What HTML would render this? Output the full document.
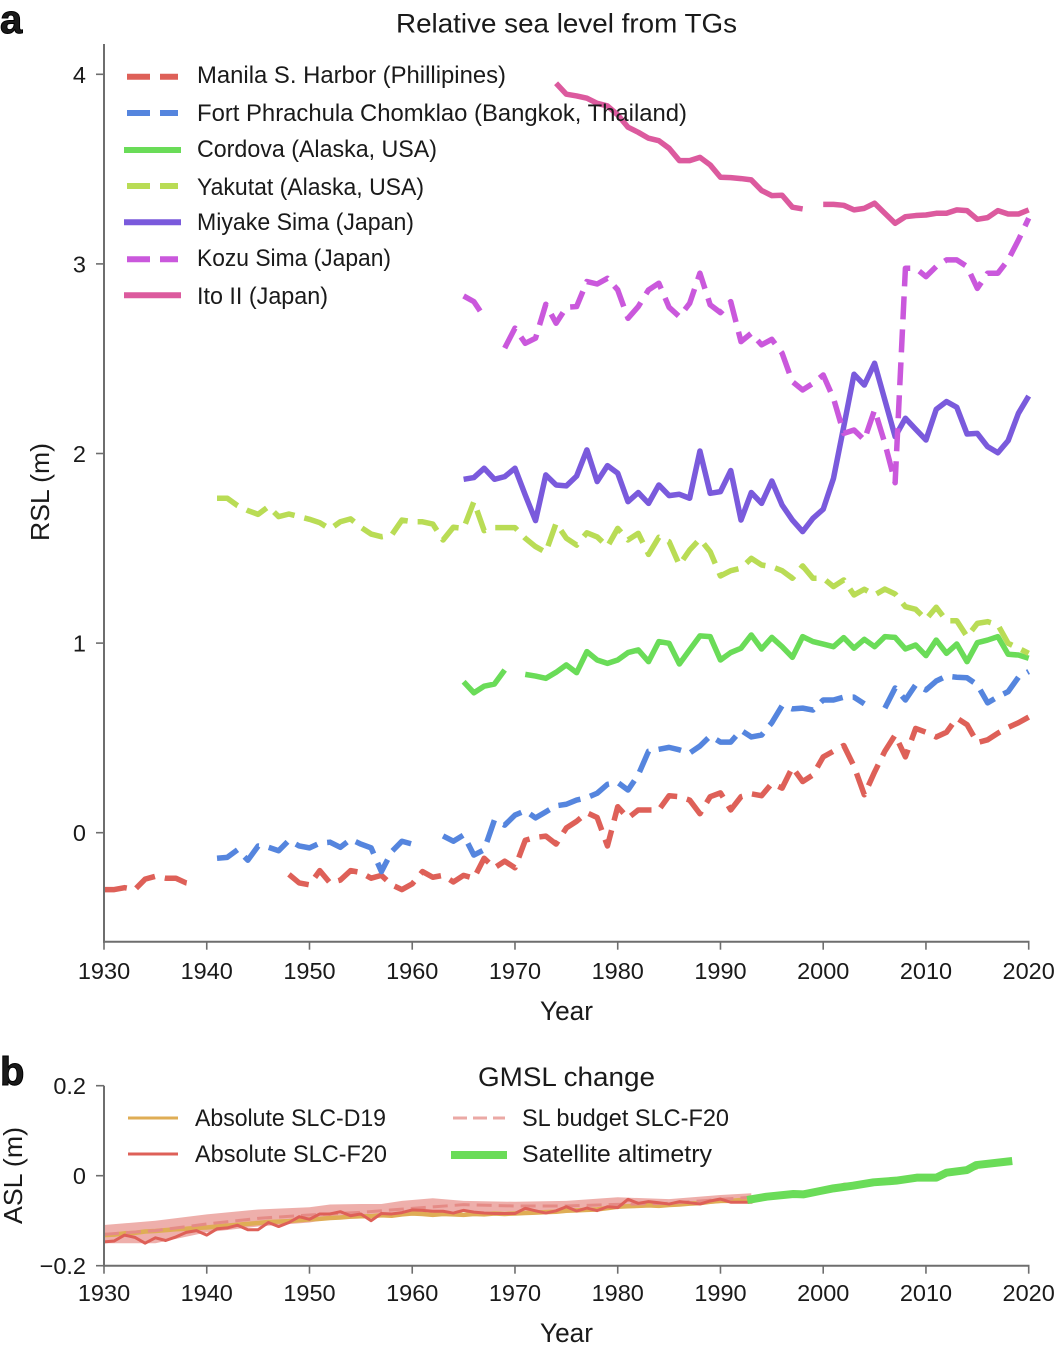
<!DOCTYPE html>
<html lang="en">
<head>
<meta charset="utf-8">
<title>Sea level charts</title>
<style>
html,body{margin:0;padding:0;background:#fff;}
#wrap{width:1057px;height:1350px;position:relative;overflow:hidden;}
svg{display:block;}
text{font-family:"Liberation Sans",sans-serif;fill:#1a1a1a;}
</style>
</head>
<body>
<div id="wrap">
<svg id="chart" width="1057" height="1350" viewBox="0 0 1057 1350" xmlns="http://www.w3.org/2000/svg">
  <g id="panelA">
    <g id="linesA"></g>
    <g id="axesA"></g>
    <g id="legendA"></g>
    <text x="0" y="33" font-size="40" font-weight="bold" stroke="#000" stroke-width="1">a</text>
    <text x="566.5" y="32.5" font-size="27" text-anchor="middle" textLength="341" lengthAdjust="spacingAndGlyphs">Relative sea level from TGs</text>
    <text x="566.5" y="1020" font-size="26.5" text-anchor="middle" textLength="53" lengthAdjust="spacingAndGlyphs">Year</text>
    <text transform="translate(49,492) rotate(-90)" font-size="26" text-anchor="middle" textLength="98" lengthAdjust="spacingAndGlyphs">RSL (m)</text>
  </g>
  <g id="panelB">
    <g id="linesB"></g>
    <g id="axesB"></g>
    <g id="legendB"></g>
    <text x="0" y="1085" font-size="40" font-weight="bold" stroke="#000" stroke-width="1">b</text>
    <text x="566.5" y="1086" font-size="27" text-anchor="middle" textLength="177" lengthAdjust="spacingAndGlyphs">GMSL change</text>
    <text x="566.5" y="1342" font-size="26.5" text-anchor="middle" textLength="53" lengthAdjust="spacingAndGlyphs">Year</text>
    <text transform="translate(22,1175.5) rotate(-90)" font-size="26" text-anchor="middle" textLength="97" lengthAdjust="spacingAndGlyphs">ASL (m)</text>
  </g>
</svg>
</div>
<script>
// ---- Shared axis data ----
const xTickYears = [1930, 1940, 1950, 1960, 1970, 1980, 1990, 2000, 2010, 2020];
const yTicksA = [0, 1, 2, 3, 4];
const yTicksB = [-0.2, 0, 0.2];
const yTickLabelsB = ['\u22120.2', '0', '0.2'];

// ---- Panel a: yearly relative sea level (m); null = missing year ----
const manilaStart = 1930;
const manilaValues = [
 -0.30,-0.30,-0.29,-0.30,-0.245,-0.23,-0.24,-0.24,-0.265,-0.275,
 null,null,null,null,null,null,null,null,-0.22,-0.265,
 -0.275,-0.20,-0.265,-0.25,-0.20,-0.21,-0.24,-0.225,-0.275,-0.30,
 -0.27,-0.205,-0.235,-0.225,-0.26,-0.225,-0.24,-0.135,-0.185,-0.15,
 -0.185,-0.04,-0.025,-0.018,-0.06,0.025,0.06,0.105,0.08,-0.07,
 0.137,0.077,0.12,0.12,0.12,0.195,0.19,0.172,0.10,0.19,
 0.21,0.12,0.19,0.205,0.195,0.26,0.235,0.345,0.27,0.305,
 0.40,0.43,0.46,0.35,0.20,0.32,0.43,0.515,0.40,0.55,
 0.53,0.505,0.53,0.605,0.57,0.475,0.49,0.525,0.555,0.58,0.61];
const fortStart = 1941;
const fortValues = [
 -0.135,-0.13,-0.09,-0.145,-0.07,-0.077,-0.095,-0.04,-0.07,
 -0.08,-0.055,-0.05,-0.077,-0.035,-0.06,-0.08,-0.205,-0.10,-0.045,
 -0.06,null,null,-0.017,-0.045,-0.012,-0.118,-0.09,0.067,0.04,
 0.093,0.116,0.078,0.11,0.142,0.15,0.172,0.185,0.208,0.255,
 0.265,0.225,0.305,0.43,0.44,0.45,0.437,0.42,0.457,0.51,
 0.478,0.478,0.54,0.505,0.515,0.58,0.67,0.653,0.657,0.647,
 0.70,0.70,0.715,0.715,0.68,null,0.657,0.763,0.70,0.78,
 0.753,0.80,0.826,0.82,0.817,0.78,0.685,0.717,0.744,0.82,0.85];
const cordovaStart = 1965;
const cordovaValues = [
 0.796,0.738,0.773,0.784,0.858,
 null,0.835,0.826,0.814,0.846,0.885,0.844,0.955,0.911,0.893,
 0.911,0.95,0.964,0.902,1.008,0.999,0.89,0.964,1.038,1.034,
 0.911,0.95,0.973,1.043,0.969,1.03,0.981,0.925,1.034,1.008,
 0.995,0.981,1.029,0.973,1.02,0.981,1.034,1.03,0.969,0.99,
 0.934,1.016,0.946,0.995,0.902,1.002,1.016,1.034,0.941,0.937,0.92];
const yakutatStart = 1941;
const yakutatValues = [
 1.764,1.764,1.725,1.699,1.679,1.72,1.667,1.681,1.667,
 1.653,1.635,1.602,1.64,1.655,1.611,1.575,1.561,1.57,1.649,
 1.64,1.64,1.628,1.544,1.611,1.605,1.746,1.593,1.609,1.609,
 1.609,1.553,1.509,1.479,1.632,1.553,1.517,1.582,1.56,1.509,
 1.605,1.544,1.579,1.468,1.558,1.535,1.412,1.491,1.549,1.482,
 1.354,1.382,1.395,1.447,1.412,1.403,1.382,1.342,1.407,1.342,
 1.342,1.298,1.333,1.254,1.284,1.254,1.285,1.259,1.192,1.178,
 1.125,1.189,1.118,1.118,1.034,1.104,1.113,1.096,0.999,0.973,0.946];
const miyakeStart = 1965;
const miyakeValues = [
 1.864,1.873,1.922,1.864,1.878,
 1.922,1.781,1.646,1.887,1.834,1.829,1.881,2.019,1.852,1.936,
 1.896,1.746,1.794,1.737,1.834,1.778,1.785,1.764,2.013,1.79,
 1.799,1.91,1.649,1.794,1.737,1.855,1.728,1.649,1.588,1.658,
 1.706,1.869,2.142,2.418,2.361,2.476,2.282,2.089,2.186,2.128,
 2.071,2.233,2.274,2.244,2.103,2.106,2.036,2.004,2.068,2.212,2.303];
const kozuStart = 1965;
const kozuValues = [
 2.831,2.801,2.72,null,2.556,
 2.661,2.581,2.608,2.787,2.687,2.771,2.775,2.907,2.894,2.924,
 2.863,2.713,2.775,2.863,2.898,2.771,2.722,2.792,2.951,2.784,
 2.743,2.801,2.59,2.634,2.573,2.602,2.529,2.379,2.335,2.37,
 2.414,2.291,2.106,2.124,2.071,2.23,2.054,1.846,2.977,2.977,
 2.933,2.986,3.021,3.021,2.986,2.871,2.951,2.951,3.021,3.126,3.241];
const itoStart = 1974;
const itoValues = [
 3.953,3.895,3.886,3.874,3.847,3.833,
 3.786,3.721,3.694,3.663,3.65,3.61,3.545,3.545,3.562,3.522,
 3.457,3.455,3.45,3.443,3.387,3.36,3.362,3.299,3.29,null,
 3.314,3.314,3.309,3.285,3.293,3.32,3.267,3.214,3.249,3.255,
 3.258,3.267,3.267,3.285,3.281,3.235,3.244,3.281,3.263,3.263,3.285];

// ---- Panel a legend labels ----
const legendLabelsA = [
 'Manila S. Harbor (Phillipines)',
 'Fort Phrachula Chomklao (Bangkok, Thailand)',
 'Cordova (Alaska, USA)',
 'Yakutat (Alaska, USA)',
 'Miyake Sima (Japan)',
 'Kozu Sima (Japan)',
 'Ito II (Japan)'];

// ---- Panel b: global mean sea level change (m) ----
const d19Start = 1930;
const d19Values = [
 -0.132,-0.131,-0.128,-0.127,-0.124,-0.123,-0.121,-0.119,-0.118,-0.116,
 -0.115,-0.113,-0.111,-0.109,-0.107,-0.105,-0.103,-0.102,-0.101,-0.099,
 -0.097,-0.096,-0.094,-0.093,-0.091,-0.090,-0.090,-0.088,-0.089,-0.086,
 -0.084,-0.085,-0.087,-0.085,-0.086,-0.087,-0.085,-0.086,-0.084,-0.085,
 -0.084,-0.083,-0.082,-0.081,-0.080,-0.078,-0.077,-0.076,-0.075,-0.072,
 -0.069,-0.068,-0.067,-0.066,-0.067,-0.065,-0.064,-0.062,-0.061,-0.058,
 -0.056,-0.056,-0.054,-0.050,-0.049,-0.047,-0.043,-0.041,-0.038,-0.035,
 -0.031,-0.028,-0.025,-0.022,-0.018,-0.016,-0.013,-0.012,-0.009,-0.006,
 -0.004,-0.002,0.004,0.008,0.012,0.019];
const f20Start = 1930;
const f20Values = [
 -0.147,-0.145,-0.132,-0.137,-0.150,-0.138,-0.144,-0.136,-0.126,-0.122,
 -0.132,-0.118,-0.116,-0.110,-0.120,-0.120,-0.104,-0.113,-0.104,-0.091,
 -0.097,-0.085,-0.085,-0.080,-0.089,-0.085,-0.100,-0.084,-0.085,-0.082,
 -0.076,-0.077,-0.079,-0.079,-0.083,-0.077,-0.081,-0.083,-0.084,-0.084,
 -0.084,-0.0725,-0.078,-0.083,-0.078,-0.069,-0.0785,-0.072,-0.0777,-0.069,
 -0.071,-0.0525,-0.0614,-0.0577,-0.060,-0.063,-0.0577,-0.060,-0.063,-0.0562,
 -0.0518,-0.059,-0.059,-0.059,-0.050,-0.046,-0.044,-0.041,-0.041,-0.035,
 -0.030,-0.026,-0.019,-0.019,-0.020,-0.015,-0.012,-0.010,-0.008,-0.005,
 -0.005,-0.002,0.006,0.010,0.014,0.022,0.025,0.027,0.031];
const budgetYears = [1930,1935,1940,1945,1950,1955,1960,1965,1970,1975,1980,1985,1990,1993];
const budgetValues = [-0.1303,-0.122,-0.1073,-0.0947,-0.0873,-0.0814,-0.0725,-0.0644,-0.0673,-0.0673,-0.0636,-0.0614,-0.0526,-0.048];
const bandYears = [1930,1935,1940,1945,1950,1952,1955,1957,1959,1962,1965,1970,1975,1980,1985,1990,1993];
const bandUpper = [-0.1096,-0.100,-0.086,-0.075,-0.070,-0.064,-0.063,-0.063,-0.056,-0.050,-0.056,-0.058,-0.056,-0.048,-0.052,-0.043,-0.039];
const bandLower = [-0.150,-0.150,-0.126,-0.113,-0.104,-0.097,-0.095,-0.090,-0.084,-0.078,-0.080,-0.080,-0.078,-0.073,-0.069,-0.061,-0.058];
const satYears = [1992.6,1994.5,1997.1,1998.1,1999.7,2001,2002.9,2004.9,2007.1,2009.1,2011,2012,2014,2014.9,2018.4];
const satValues = [-0.054,-0.0466,-0.0407,-0.0414,-0.034,-0.0281,-0.0222,-0.0147,-0.011,-0.0044,-0.0044,0.0067,0.0126,0.0237,0.0326];
const legendLabelsB = ['Absolute SLC-D19', 'Absolute SLC-F20', 'SL budget SLC-F20', 'Satellite altimetry'];

// ---- Axis functions ----
const SVGNS = 'http://www.w3.org/2000/svg';
function xScale(year){ return 104 + (year - 1930) * 924.7 / 90; }
function yScaleA(v){ return 832.7 - v * 189.6; }
function yScaleB(v){ return 1175.7 - v * 450; }

function mk(tag, parent, attrs){
  const el = document.createElementNS(SVGNS, tag);
  for (const k in attrs) el.setAttribute(k, attrs[k]);
  parent.appendChild(el);
  return el;
}
function pathFrom(start, values, yFn){
  let d = '', pen = false;
  values.forEach(function(v, i){
    if (v === null) { pen = false; return; }
    d += (pen ? 'L' : 'M') + xScale(start + i).toFixed(2) + ' ' + yFn(v).toFixed(2);
    pen = true;
  });
  return d;
}
function pathXY(years, values, yFn){
  return values.map(function(v, i){
    return (i ? 'L' : 'M') + xScale(years[i]).toFixed(2) + ' ' + yFn(v).toFixed(2);
  }).join('');
}

// ---- Panel a series ----
const linesA = document.getElementById('linesA');
const colRed = '#de6058', colBlue = '#5585de', colGreen = '#6adc58', colYellow = '#b9dc55',
      colPurple = '#7a5adc', colMagenta = '#ca58dc', colPink = '#dc5a9e';
const dash = '23 10';
function seriesA(start, values, color, dashed){
  const p = mk('path', linesA, {d: pathFrom(start, values, yScaleA), fill: 'none', stroke: color,
    'stroke-width': 5.5, 'stroke-linejoin': 'round', 'stroke-linecap': 'butt'});
  if (dashed) p.setAttribute('stroke-dasharray', dash);
  return p;
}
const manilaLine = seriesA(manilaStart, manilaValues, colRed, true);


const fortLine = seriesA(fortStart, fortValues, colBlue, true);


const cordovaLine = seriesA(cordovaStart, cordovaValues, colGreen, false);


const yakutatLine = seriesA(yakutatStart, yakutatValues, colYellow, true);


const miyakeLine = seriesA(miyakeStart, miyakeValues, colPurple, false);


const kozuLine = seriesA(kozuStart, kozuValues, colMagenta, true);


const itoLine = seriesA(itoStart, itoValues, colPink, false);



// ---- Axes ----
const spine = '#6e6e6e';
function drawAxes(group, top, bottom, yTicks, yLabels, yFn, xLabelY){
  const ySp = mk('line', group, {x1: 104, x2: 104, y1: top, y2: bottom + 1, stroke: spine, 'stroke-width': 2});
  
  
  const xSp = mk('line', group, {x1: 103, x2: 1029.5, y1: bottom, y2: bottom, stroke: spine, 'stroke-width': 2});
  
  
  xTickYears.forEach(function(yr){
    const t = mk('line', group, {x1: xScale(yr), x2: xScale(yr), y1: bottom, y2: bottom + 8, stroke: spine, 'stroke-width': 1.6});
    
    
    const l = mk('text', group, {x: xScale(yr), y: xLabelY, 'font-size': 23.5, 'text-anchor': 'middle'});
    l.textContent = String(yr);
    
    
  });
  yTicks.forEach(function(v, i){
    const t = mk('line', group, {x1: 96, x2: 104, y1: yFn(v), y2: yFn(v), stroke: spine, 'stroke-width': 1.6});
    
    
    const l = mk('text', group, {x: 86, y: yFn(v) + 8.5, 'font-size': 23.5, 'text-anchor': 'end'});
    l.textContent = yLabels[i];
    
    
  });
}
drawAxes(document.getElementById('axesA'), 44, 941.7, yTicksA, yTicksA.map(String), yScaleA, 979);

// ---- Panel a legend ----
const legendA = document.getElementById('legendA');
const legendColorsA = [colRed, colBlue, colGreen, colYellow, colPurple, colMagenta, colPink];
const legendDashedA = [true, true, false, true, false, true, false];
const legendRowsA = [76.7, 113, 150, 186, 222.3, 259.3, 295.3];
const legendTextYA = [83, 121, 157, 195, 230, 266, 304];
const legendWidthsA = [309, 490, 240, 227, 217, 194, 131];
legendLabelsA.forEach(function(label, i){
  const sw = legendDashedA[i]
    ? mk('path', legendA, {d: 'M127 ' + legendRowsA[i] + 'H150M160 ' + legendRowsA[i] + 'H178', stroke: legendColorsA[i], 'stroke-width': 6, fill: 'none'})
    : mk('line', legendA, {x1: 124, x2: 181, y1: legendRowsA[i], y2: legendRowsA[i], stroke: legendColorsA[i], 'stroke-width': 6});
  
  
  const t = mk('text', legendA, {x: 197, y: legendTextYA[i], 'font-size': 24, textLength: legendWidthsA[i], lengthAdjust: 'spacingAndGlyphs'});
  t.textContent = label;
  
  
});

// ---- Panel b series ----
const linesB = document.getElementById('linesB');
const bandPath = pathXY(bandYears, bandUpper, yScaleB) + 'L' +
  bandYears.slice().reverse().map(function(y, i){
    return xScale(y).toFixed(2) + ' ' + yScaleB(bandLower[bandLower.length - 1 - i]).toFixed(2);
  }).join('L') + 'Z';
const band = mk('path', linesB, {d: bandPath, fill: '#de6058', 'fill-opacity': 0.5, stroke: 'none'});


const d19Line = mk('path', linesB, {d: pathFrom(d19Start, d19Values, yScaleB), fill: 'none', stroke: '#dfad55', 'stroke-width': 4.5, 'stroke-linejoin': 'round'});


const budgetLine = mk('path', linesB, {d: pathXY(budgetYears, budgetValues, yScaleB), fill: 'none', stroke: '#e58b86', 'stroke-width': 3, 'stroke-dasharray': '15 7'});


const f20Line = mk('path', linesB, {d: pathFrom(f20Start, f20Values, yScaleB), fill: 'none', stroke: colRed, 'stroke-width': 3, 'stroke-linejoin': 'round'});


const satLine = mk('path', linesB, {d: pathXY(satYears, satValues, yScaleB), fill: 'none', stroke: colGreen, 'stroke-width': 8, 'stroke-linejoin': 'round'});



drawAxes(document.getElementById('axesB'), 1085.7, 1265.7, yTicksB, yTickLabelsB, yScaleB, 1301);

// ---- Panel b legend ----
const legendB = document.getElementById('legendB');
const sw1 = mk('line', legendB, {x1: 128, x2: 178, y1: 1118, y2: 1118, stroke: '#dfad55', 'stroke-width': 3});


const sw2 = mk('line', legendB, {x1: 128, x2: 178, y1: 1154, y2: 1154, stroke: colRed, 'stroke-width': 3});


const sw3 = mk('path', legendB, {d: 'M453 1118H467M473 1118H487M493 1118H505', stroke: '#eba9a5', 'stroke-width': 3, fill: 'none'});


const sw4 = mk('line', legendB, {x1: 451, x2: 507, y1: 1155, y2: 1155, stroke: colGreen, 'stroke-width': 8});


const legendXB = [195, 195, 522, 522];
const legendYB = [1126, 1162, 1126, 1162];
const legendWB = [191, 192, 207, 190];
legendLabelsB.forEach(function(label, i){
  const t = mk('text', legendB, {x: legendXB[i], y: legendYB[i], 'font-size': 24, textLength: legendWB[i], lengthAdjust: 'spacingAndGlyphs'});
  t.textContent = label;
  
  
});
</script>
</body>
</html>
